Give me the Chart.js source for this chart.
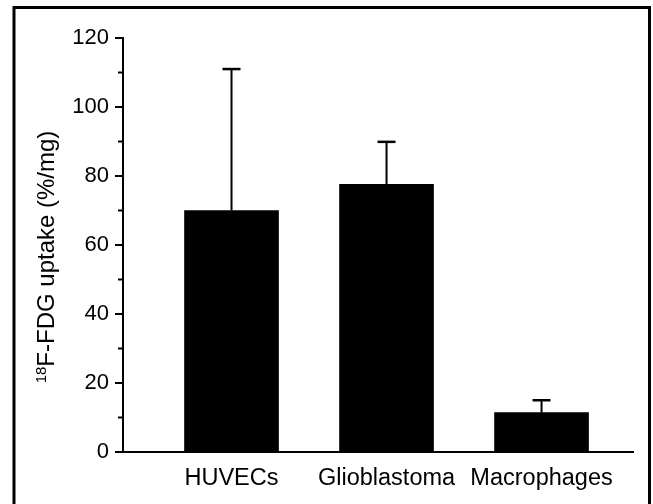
<!DOCTYPE html>
<html>
<head>
<meta charset="utf-8">
<script src="https://cdn.jsdelivr.net/npm/chart.js@4.4.1/dist/chart.umd.min.js"></script>
<style>
    body { margin: 0; background: #fff; }
    canvas { display: block; }
</style>
</head>
<body>
<canvas id="uptakeChart" width="653" height="504"></canvas>
<script>
// Data
const categories = ['HUVECs', 'Glioblastoma', 'Macrophages'];
const uptake = [70, 77.6, 11.4];
const uptakeSD = [41, 12.3, 3.6];
const yMajorTicks = [0, 20, 40, 60, 80, 100, 120];
const yMinorTicks = [10, 30, 50, 70, 90, 110];

const FONT = "'Liberation Sans', Arial, sans-serif";

// Outer frame round the figure
const framePlugin = {
    id: 'frame',
    afterDraw(chart) {
        const ctx = chart.ctx;
        ctx.save();
        ctx.strokeStyle = '#000';
        ctx.lineWidth = 3;
        ctx.strokeRect(14, 7.5, 635.5, 520);
        ctx.restore();
    }
};

// Short minor ticks on the y axis
const minorTickPlugin = {
    id: 'minorTicks',
    afterDraw(chart) {
        const y = chart.scales.y;
        const ctx = chart.ctx;
        ctx.save();
        ctx.strokeStyle = '#000';
        ctx.lineWidth = 2;
        yMinorTicks.forEach(v => {
            const py = y.getPixelForValue(v);
            ctx.beginPath();
            ctx.moveTo(y.right - 5, py);
            ctx.lineTo(y.right, py);
            ctx.stroke();
        });
        ctx.restore();
    }
};

// Upper error bars (SD)
const errorBarPlugin = {
    id: 'errorBars',
    afterDatasetsDraw(chart) {
        const ctx = chart.ctx;
        const y = chart.scales.y;
        const meta = chart.getDatasetMeta(0);
        ctx.save();
        ctx.strokeStyle = '#000';
        meta.data.forEach((bar, i) => {
            const top = y.getPixelForValue(uptake[i] + uptakeSD[i]);
            ctx.lineWidth = 2;
            ctx.beginPath();
            ctx.moveTo(bar.x, bar.y);
            ctx.lineTo(bar.x, top);
            ctx.stroke();
            ctx.lineWidth = 2.5;
            ctx.beginPath();
            ctx.moveTo(bar.x - 9, top);
            ctx.lineTo(bar.x + 9, top);
            ctx.stroke();
        });
        ctx.restore();
    }
};

// Y title with superscript 18
const yTitlePlugin = {
    id: 'yTitle',
    afterDraw(chart) {
        const ctx = chart.ctx;
        const sup = '18';
        const main = 'F-FDG uptake (%/mg)';
        ctx.save();
        ctx.translate(54, 257);
        ctx.rotate(-Math.PI / 2);
        ctx.fillStyle = '#000';
        ctx.textBaseline = 'alphabetic';
        ctx.font = '15px ' + FONT;
        const wSup = ctx.measureText(sup).width;
        ctx.font = '24px ' + FONT;
        const wMain = ctx.measureText(main).width;
        const start = -(wSup + wMain) / 2;
        ctx.font = '15px ' + FONT;
        ctx.fillText(sup, start, -8);
        ctx.font = '24px ' + FONT;
        ctx.fillText(main, start + wSup, 0);
        ctx.restore();
    }
};

const ctx = document.getElementById('uptakeChart').getContext('2d');
new Chart(ctx, {
    type: 'bar',
    data: {
        datasets: [{
            data: categories.map((c, i) => ({ x: i + 1, y: uptake[i] })),
            backgroundColor: '#000',
            borderWidth: 0,
            barThickness: 94
        }]
    },
    options: {
        responsive: false,
        animation: false,
        devicePixelRatio: 1,
        layout: { padding: { top: 38, right: 20, left: 0, bottom: 0 } },
        plugins: {
            legend: { display: false },
            tooltip: { enabled: false }
        },
        scales: {
            x: {
                type: 'linear',
                offset: false,
                min: 0.3,
                max: 3.59,
                afterBuildTicks: scale => {
                    scale.ticks = categories.map((c, i) => ({ value: i + 1 }));
                },
                afterFit: scale => { scale.height = 52; },
                grid: { display: false, drawTicks: false, tickLength: 0, offset: false },
                border: { display: true, color: '#000', width: 2 },
                ticks: {
                    autoSkip: false,
                    maxRotation: 0,
                    padding: 12,
                    color: '#000',
                    font: { family: FONT, size: 23.5 },
                    callback: value => categories[value - 1] || ''
                }
            },
            y: {
                min: 0,
                max: 120,
                afterBuildTicks: scale => {
                    scale.ticks = yMajorTicks.map(v => ({ value: v }));
                },
                afterFit: scale => { scale.width = 123; },
                grid: {
                    drawOnChartArea: false,
                    drawTicks: true,
                    tickLength: 8,
                    color: '#000',
                    lineWidth: 2
                },
                border: { display: true, color: '#000', width: 2 },
                ticks: {
                    padding: 6,
                    color: '#000',
                    font: { family: FONT, size: 22 }
                }
            }
        }
    },
    plugins: [framePlugin, minorTickPlugin, errorBarPlugin, yTitlePlugin]
});
</script>
</body>
</html>
